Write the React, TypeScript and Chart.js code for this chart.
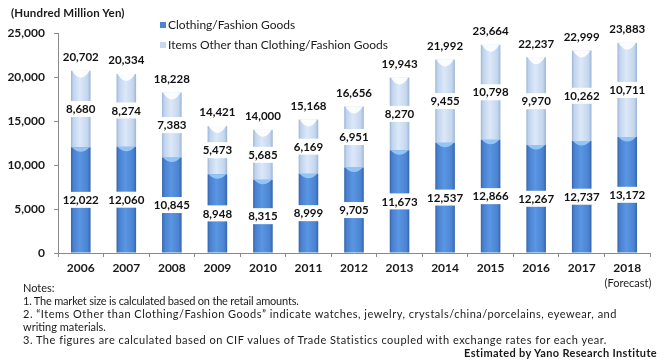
import React, { useEffect, useRef } from "react";
import { Chart, registerables } from "chart.js";

Chart.register(...registerables);

const categories = ["2006", "2007", "2008", "2009", "2010", "2011", "2012", "2013", "2014", "2015", "2016", "2017", "2018"];
const clothing = [12022, 12060, 10845, 8948, 8315, 8999, 9705, 11673, 12537, 12866, 12267, 12737, 13172];
const otherItems = [8680, 8274, 7383, 5473, 5685, 6169, 6951, 8270, 9455, 10798, 9970, 10262, 10711];
const totals = [20702, 20334, 18228, 14421, 14000, 15168, 16656, 19943, 21992, 23664, 22237, 22999, 23883];
const seriesNames = ["Clothing/Fashion Goods", "Items Other than Clothing/Fashion Goods"];
const yTicks = [0, 5000, 10000, 15000, 20000, 25000];
const notes = [
  "Notes:",
  "1. The market size is calculated based on the retail amounts.",
  "2. \u201cItems Other than Clothing/Fashion Goods\u201d indicate watches, jewelry, crystals/china/porcelains, eyewear, and",
  "writing materials.",
  "3. The figures are calculated based on CIF values of Trade Statistics coupled with exchange rates for each year.",
];
const noteSpacing = [0, -0.2, 0.5, 0, 0.5];

const FONT = "Lato, 'Open Sans', sans-serif";
const fmt = (v: number) => v.toLocaleString("en-US");

const blueStops: [number, string][] = [
  [0, "#3563a8"], [0.12, "#4880cf"], [0.45, "#5b96e2"], [0.85, "#4a83d2"], [1, "#3563a8"],
];
const lightStops: [number, string][] = [
  [0, "#9cb4d4"], [0.12, "#c0d4ee"], [0.45, "#dce8f8"], [0.85, "#c3d6ef"], [1, "#9cb4d4"],
];

const cylinderPlugin = {
  id: "cylinder",
  beforeDatasetsDraw(chart: any) {
    const ctx = chart.ctx;
    chart.data.datasets.forEach((_ds: any, di: number) => {
      const meta = chart.getDatasetMeta(di);
      const stops = di === 0 ? blueStops : lightStops;
      meta.data.forEach((el: any) => {
        const w = el.width;
        const g = ctx.createLinearGradient(el.x - w / 2, 0, el.x + w / 2, 0);
        stops.forEach(([o, c]) => g.addColorStop(o, c));
        el.options = Object.assign({}, el.options, { backgroundColor: g });
      });
    });
  },
  afterDatasetsDraw(chart: any) {
    const ctx = chart.ctx;
    ctx.save();
    chart.data.datasets.forEach((_ds: any, di: number) => {
      const meta = chart.getDatasetMeta(di);
      meta.data.forEach((el: any) => {
        const w = el.width;
        const l = el.x - w / 2;
        const r = el.x + w / 2;
        const t = el.y;
        ctx.beginPath();
        ctx.moveTo(l + 1, t);
        ctx.lineTo(r - 1, t);
        ctx.quadraticCurveTo(el.x, t + (di === 0 ? 9 : 14), l + 1, t);
        ctx.closePath();
        ctx.fillStyle = di === 0 ? "rgba(150,200,245,0.95)" : "rgba(255,255,255,0.9)";
        ctx.fill();
      });
    });
    ctx.font = `bold 11.5px ${FONT}`;
    ctx.textAlign = "center";
    ctx.textBaseline = "middle";
    const drawLabel = (text: string, x: number, y: number) => {
      const tw = ctx.measureText(text).width;
      ctx.fillStyle = "#ffffff";
      ctx.fillRect(x - tw / 2 - 2, y - 8, tw + 4, 16);
      ctx.fillStyle = "#111111";
      ctx.fillText(text, x, y + 0.5);
    };
    chart.data.datasets.forEach((ds: any, di: number) => {
      const meta = chart.getDatasetMeta(di);
      meta.data.forEach((el: any, i: number) => {
        drawLabel(fmt(ds.data[i]), el.x, (el.y + el.base) / 2);
      });
    });
    const topMeta = chart.getDatasetMeta(1);
    topMeta.data.forEach((el: any, i: number) => {
      drawLabel(fmt(totals[i]), el.x, el.y - 14);
    });
    ctx.restore();
  },
};

export default function App() {
  const ref = useRef<HTMLCanvasElement | null>(null);
  useEffect(() => {
    if (!ref.current) return;
    const chart = new Chart(ref.current, {
      type: "bar",
      data: {
        labels: categories,
        datasets: [
          { label: seriesNames[0], data: clothing, backgroundColor: "#4a84d4", borderWidth: 0 },
          { label: seriesNames[1], data: otherItems, backgroundColor: "#c6d9f0", borderWidth: 0 },
        ],
      },
      options: {
        responsive: false,
        animation: false,
        devicePixelRatio: 1,
        layout: { padding: { top: 33, right: 14, left: 0, bottom: 0 } },
        datasets: { bar: { categoryPercentage: 1, barPercentage: 0.43 } },
        plugins: { legend: { display: false }, tooltip: { enabled: false }, title: { display: false } },
        scales: {
          x: {
            stacked: true,
            afterFit: (s: any) => { s.height = 37; },
            grid: { drawOnChartArea: false, drawTicks: true, tickLength: 4, color: "#8a8a8a", offset: true },
            border: { display: true, color: "#8a8a8a" },
            ticks: { color: "#1a1a1a", font: { family: FONT, size: 12, weight: "bold" }, padding: 4, maxRotation: 0 },
          },
          y: {
            stacked: true,
            min: 0,
            max: 25000,
            afterFit: (s: any) => { s.width = 58; },
            afterBuildTicks: (s: any) => { s.ticks = yTicks.map((v) => ({ value: v })); },
            grid: { drawOnChartArea: false, drawTicks: true, tickLength: 4, color: "#8a8a8a" },
            border: { display: true, color: "#8a8a8a" },
            ticks: { color: "#1a1a1a", font: { family: FONT, size: 12, weight: "bold" }, padding: 9, callback: (v: any) => fmt(Number(v)) },
          },
        },
      },
      plugins: [cylinderPlugin],
    });
    return () => chart.destroy();
  }, []);

  const noteStyle: React.CSSProperties = {
    position: "absolute", left: 23, fontFamily: FONT, fontSize: 11, lineHeight: "13px", color: "#1a1a1a", whiteSpace: "nowrap",
  };
  const marker = (c: string): React.CSSProperties => ({
    display: "inline-block", width: 6, height: 6, background: c, marginRight: 2, verticalAlign: "middle", position: "relative", top: -1,
  });

  return (
    <div style={{ position: "fixed", left: 0, top: 0, width: 664, height: 361, background: "#fff", overflow: "hidden" }}>
      <canvas ref={ref} width={664} height={290} style={{ position: "absolute", left: 0, top: 0, width: 664, height: 290 }} />
      <div style={{ position: "absolute", left: 11, top: 6, fontFamily: FONT, fontSize: 11.5, letterSpacing: 0.15, fontWeight: "bold", color: "#1a1a1a", whiteSpace: "nowrap" }}>
        (Hundred Million Yen)
      </div>
      <div style={{ position: "absolute", left: 160, top: 15, fontFamily: FONT, fontSize: 12, color: "#1a1a1a", whiteSpace: "nowrap", lineHeight: "20px" }}>
        <div><span style={marker("#4a84d4")} />{seriesNames[0]}</div>
        <div><span style={marker("#c6d9f0")} />{seriesNames[1]}</div>
      </div>
      <div style={{ position: "absolute", left: 600, width: 56, textAlign: "center", top: 276, fontFamily: FONT, fontSize: 11, color: "#1a1a1a", whiteSpace: "nowrap" }}>
        (Forecast)
      </div>
      {notes.map((n, i) => (
        <div key={i} style={{ ...noteStyle, top: 281 + i * 13, letterSpacing: noteSpacing[i] }}>{n}</div>
      ))}
      <div style={{ position: "absolute", right: 7, top: 346, fontFamily: FONT, fontSize: 11, letterSpacing: 0.35, fontWeight: "bold", color: "#1a1a1a", whiteSpace: "nowrap" }}>
        Estimated by Yano Research Institute
      </div>
    </div>
  );
}
